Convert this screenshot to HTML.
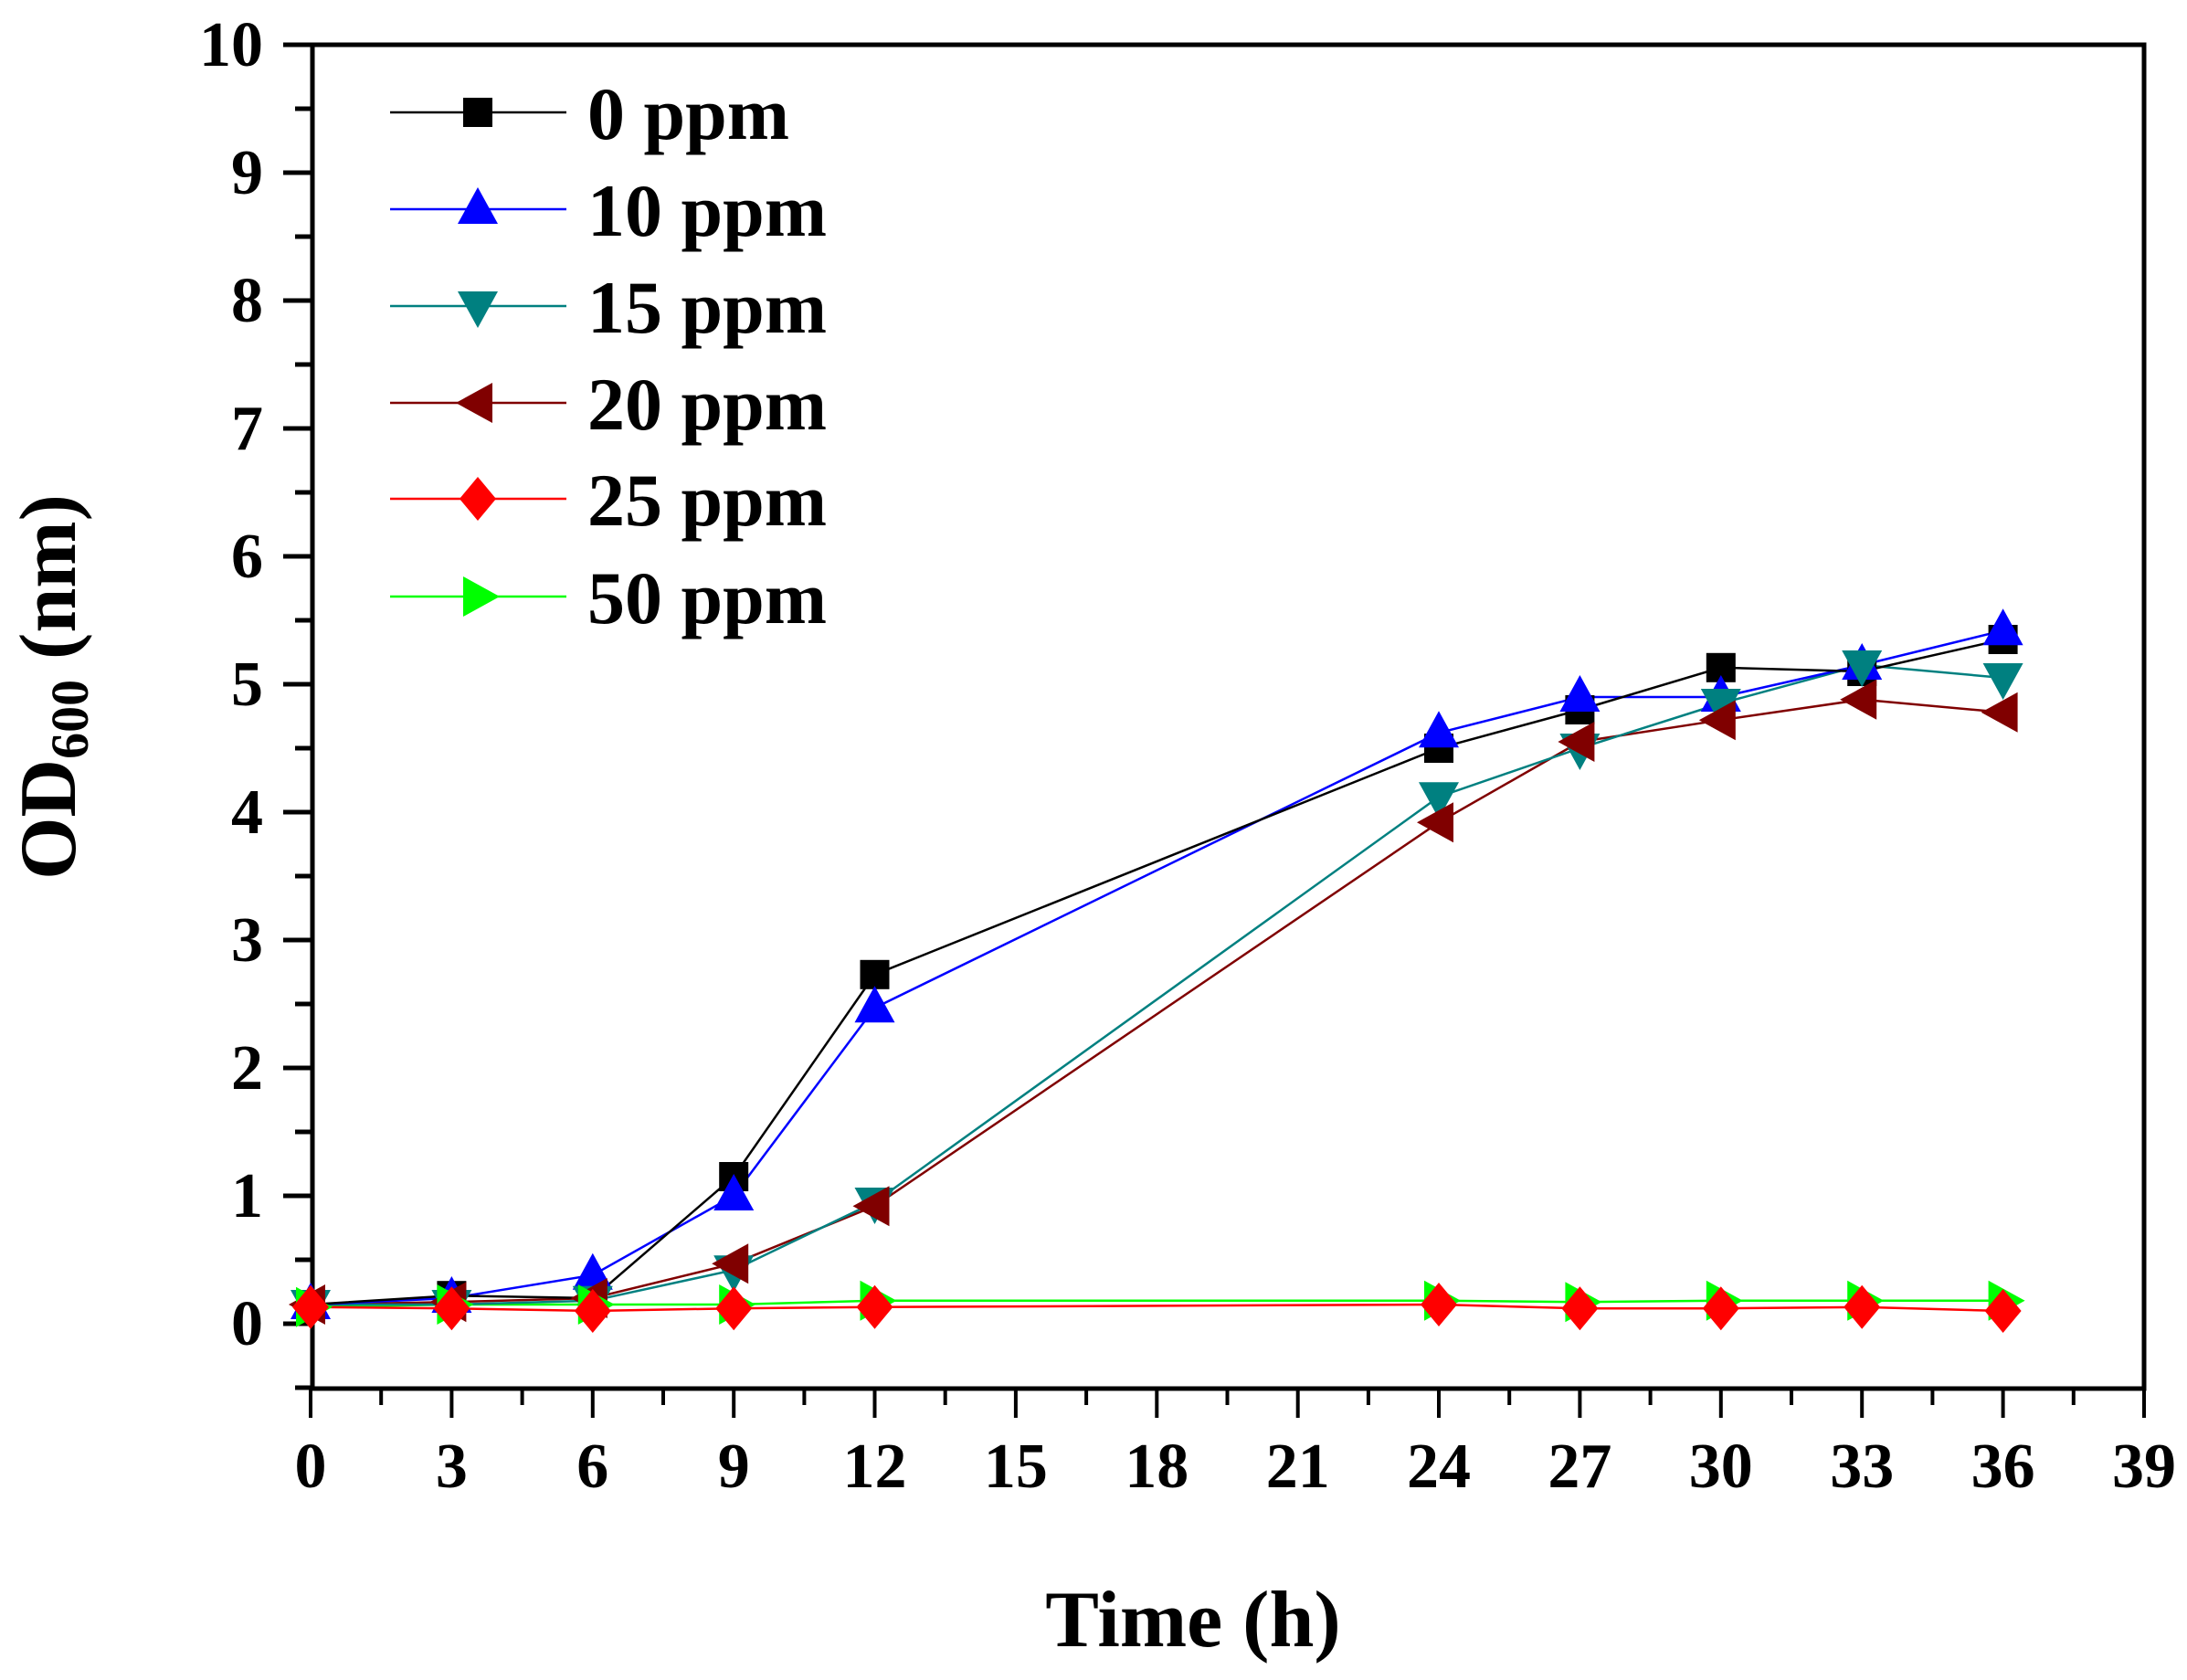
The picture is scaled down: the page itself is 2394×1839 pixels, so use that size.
<!DOCTYPE html>
<html><head><meta charset="utf-8"><style>
html,body{margin:0;padding:0;background:#fff;}
svg{display:block;}
text{font-family:"Liberation Serif",serif;font-weight:bold;fill:#000;}
</style></head><body>
<svg width="2394" height="1839" viewBox="0 0 2394 1839" xmlns="http://www.w3.org/2000/svg">
<defs>
<rect id="sq" x="-16" y="-16" width="32" height="32" fill="#000"/>
<polygon id="tu" points="0,-24 22,16 -22,16" fill="#0000ff"/>
<polygon id="td" points="0,24 22,-16 -22,-16" fill="#008080"/>
<polygon id="tl" points="-24,0 16,-22 16,22" fill="#800000"/>
<polygon id="dm" points="0,-24 20,0 0,24 -20,0" fill="#ff0000"/>
<polygon id="tr" points="24,0 -16,-22 -16,22" fill="#00ff00"/>
</defs>
<rect x="342" y="49" width="2005" height="1471" fill="none" stroke="#000" stroke-width="5"/>
<g stroke="#000" stroke-width="5">
<line x1="310" y1="49" x2="342" y2="49"/><line x1="323" y1="119" x2="342" y2="119"/>
<line x1="310" y1="189" x2="342" y2="189"/><line x1="323" y1="259" x2="342" y2="259"/>
<line x1="310" y1="329" x2="342" y2="329"/><line x1="323" y1="399" x2="342" y2="399"/>
<line x1="310" y1="469" x2="342" y2="469"/><line x1="323" y1="539" x2="342" y2="539"/>
<line x1="310" y1="609" x2="342" y2="609"/><line x1="323" y1="679" x2="342" y2="679"/>
<line x1="310" y1="749" x2="342" y2="749"/><line x1="323" y1="819" x2="342" y2="819"/>
<line x1="310" y1="889" x2="342" y2="889"/><line x1="323" y1="959" x2="342" y2="959"/>
<line x1="310" y1="1029" x2="342" y2="1029"/><line x1="323" y1="1099" x2="342" y2="1099"/>
<line x1="310" y1="1169" x2="342" y2="1169"/><line x1="323" y1="1239" x2="342" y2="1239"/>
<line x1="310" y1="1309" x2="342" y2="1309"/><line x1="323" y1="1379" x2="342" y2="1379"/>
<line x1="310" y1="1449" x2="342" y2="1449"/><line x1="323" y1="1519" x2="342" y2="1519"/>
</g>
<g stroke="#000" stroke-width="4">
<line x1="340" y1="1520" x2="340" y2="1552"/><line x1="417.2" y1="1520" x2="417.2" y2="1538"/>
<line x1="494.4" y1="1520" x2="494.4" y2="1552"/><line x1="571.6" y1="1520" x2="571.6" y2="1538"/>
<line x1="648.8" y1="1520" x2="648.8" y2="1552"/><line x1="726" y1="1520" x2="726" y2="1538"/>
<line x1="803.2" y1="1520" x2="803.2" y2="1552"/><line x1="880.4" y1="1520" x2="880.4" y2="1538"/>
<line x1="957.5" y1="1520" x2="957.5" y2="1552"/><line x1="1034.7" y1="1520" x2="1034.7" y2="1538"/>
<line x1="1111.9" y1="1520" x2="1111.9" y2="1552"/><line x1="1189.1" y1="1520" x2="1189.1" y2="1538"/>
<line x1="1266.3" y1="1520" x2="1266.3" y2="1552"/><line x1="1343.5" y1="1520" x2="1343.5" y2="1538"/>
<line x1="1420.7" y1="1520" x2="1420.7" y2="1552"/><line x1="1497.9" y1="1520" x2="1497.9" y2="1538"/>
<line x1="1575" y1="1520" x2="1575" y2="1552"/><line x1="1652.2" y1="1520" x2="1652.2" y2="1538"/>
<line x1="1729.4" y1="1520" x2="1729.4" y2="1552"/><line x1="1806.6" y1="1520" x2="1806.6" y2="1538"/>
<line x1="1883.8" y1="1520" x2="1883.8" y2="1552"/><line x1="1961" y1="1520" x2="1961" y2="1538"/>
<line x1="2038.2" y1="1520" x2="2038.2" y2="1552"/><line x1="2115.4" y1="1520" x2="2115.4" y2="1538"/>
<line x1="2192.6" y1="1520" x2="2192.6" y2="1552"/><line x1="2269.8" y1="1520" x2="2269.8" y2="1538"/>
<line x1="2347" y1="1520" x2="2347" y2="1552"/>
</g>
<g font-size="70" text-anchor="end">
<text x="288" y="72">10</text><text x="288" y="212">9</text><text x="288" y="352">8</text>
<text x="288" y="492">7</text><text x="288" y="632">6</text><text x="288" y="772">5</text>
<text x="288" y="912">4</text><text x="288" y="1052">3</text><text x="288" y="1192">2</text>
<text x="288" y="1332">1</text><text x="288" y="1472">0</text>
</g>
<g font-size="70" text-anchor="middle">
<text x="340" y="1628">0</text><text x="494.4" y="1628">3</text><text x="648.8" y="1628">6</text>
<text x="803.2" y="1628">9</text><text x="957.5" y="1628">12</text><text x="1111.9" y="1628">15</text>
<text x="1266.3" y="1628">18</text><text x="1420.7" y="1628">21</text><text x="1575" y="1628">24</text>
<text x="1729.4" y="1628">27</text><text x="1883.8" y="1628">30</text><text x="2038.2" y="1628">33</text>
<text x="2192.6" y="1628">36</text><text x="2347" y="1628">39</text>
</g>
<text x="1306" y="1802" font-size="88" text-anchor="middle">Time (h)</text>
<text transform="translate(82,752) rotate(-90)" font-size="88" text-anchor="middle">OD<tspan font-size="58" dy="14">600</tspan><tspan dy="-14"> (nm)</tspan></text>

<g fill="none" stroke-width="2.5">
<polyline stroke="#00ff00" points="340,1430.8 494.4,1428 648.8,1428 803.2,1428 957.5,1423.8 1575,1423.8 1729.4,1425.2 1883.8,1423.8 2038.2,1423.8 2192.6,1423.8"/>
<polyline stroke="#ff0000" points="340,1430.8 494.4,1432.2 648.8,1435 803.2,1432.2 957.5,1430.8 1575,1428 1729.4,1432.2 1883.8,1432.2 2038.2,1430.8 2192.6,1435"/>
<polyline stroke="#800000" points="340,1428 494.4,1425.2 648.8,1421 803.2,1383.2 957.5,1320.2 1575,900.2 1729.4,812 1883.8,788.2 2038.2,765.8 2192.6,779.8"/>
<polyline stroke="#008080" points="340,1428 494.4,1428 648.8,1423.8 803.2,1390.2 957.5,1316 1575,872.2 1729.4,819 1883.8,770 2038.2,728 2192.6,742"/>
<polyline stroke="#0000ff" points="340,1428 494.4,1421 648.8,1395.8 803.2,1309 957.5,1103.2 1575,802.2 1729.4,763 1883.8,763 2038.2,728 2192.6,690.2"/>
<polyline stroke="#000" points="340,1428 494.4,1418.2 648.8,1421 803.2,1288 957.5,1066.8 1575,819 1729.4,777 1883.8,730.8 2038.2,735 2192.6,700"/>
</g>
<g>
<use href="#sq" x="340" y="1428"/><use href="#sq" x="494.4" y="1418.2"/><use href="#sq" x="648.8" y="1421"/><use href="#sq" x="803.2" y="1288"/><use href="#sq" x="957.5" y="1066.8"/><use href="#sq" x="1575" y="819"/><use href="#sq" x="1729.4" y="777"/><use href="#sq" x="1883.8" y="730.8"/><use href="#sq" x="2038.2" y="735"/><use href="#sq" x="2192.6" y="700"/>
<use href="#tu" x="340" y="1428"/><use href="#tu" x="494.4" y="1421"/><use href="#tu" x="648.8" y="1395.8"/><use href="#tu" x="803.2" y="1309"/><use href="#tu" x="957.5" y="1103.2"/><use href="#tu" x="1575" y="802.2"/><use href="#tu" x="1729.4" y="763"/><use href="#tu" x="1883.8" y="763"/><use href="#tu" x="2038.2" y="728"/><use href="#tu" x="2192.6" y="690.2"/>
<use href="#td" x="340" y="1428"/><use href="#td" x="494.4" y="1428"/><use href="#td" x="648.8" y="1423.8"/><use href="#td" x="803.2" y="1390.2"/><use href="#td" x="957.5" y="1316"/><use href="#td" x="1575" y="872.2"/><use href="#td" x="1729.4" y="819"/><use href="#td" x="1883.8" y="770"/><use href="#td" x="2038.2" y="728"/><use href="#td" x="2192.6" y="742"/>
<use href="#tl" x="340" y="1428"/><use href="#tl" x="494.4" y="1425.2"/><use href="#tl" x="648.8" y="1421"/><use href="#tl" x="803.2" y="1383.2"/><use href="#tl" x="957.5" y="1320.2"/><use href="#tl" x="1575" y="900.2"/><use href="#tl" x="1729.4" y="812"/><use href="#tl" x="1883.8" y="788.2"/><use href="#tl" x="2038.2" y="765.8"/><use href="#tl" x="2192.6" y="779.8"/>
<use href="#tr" x="340" y="1430.8"/><use href="#tr" x="494.4" y="1428"/><use href="#tr" x="648.8" y="1428"/><use href="#tr" x="803.2" y="1428"/><use href="#tr" x="957.5" y="1423.8"/><use href="#tr" x="1575" y="1423.8"/><use href="#tr" x="1729.4" y="1425.2"/><use href="#tr" x="1883.8" y="1423.8"/><use href="#tr" x="2038.2" y="1423.8"/><use href="#tr" x="2192.6" y="1423.8"/>
<use href="#dm" x="340" y="1430.8"/><use href="#dm" x="494.4" y="1432.2"/><use href="#dm" x="648.8" y="1435"/><use href="#dm" x="803.2" y="1432.2"/><use href="#dm" x="957.5" y="1430.8"/><use href="#dm" x="1575" y="1428"/><use href="#dm" x="1729.4" y="1432.2"/><use href="#dm" x="1883.8" y="1432.2"/><use href="#dm" x="2038.2" y="1430.8"/><use href="#dm" x="2192.6" y="1435"/>
</g>
<g stroke-width="2.5">
<line x1="427" y1="123" x2="620" y2="123" stroke="#000"/>
<line x1="427" y1="229" x2="620" y2="229" stroke="#0000ff"/>
<line x1="427" y1="335" x2="620" y2="335" stroke="#008080"/>
<line x1="427" y1="441" x2="620" y2="441" stroke="#800000"/>
<line x1="427" y1="546" x2="620" y2="546" stroke="#ff0000"/>
<line x1="427" y1="653" x2="620" y2="653" stroke="#00ff00"/>
</g>
<use href="#sq" x="523" y="123"/><use href="#tu" x="523" y="229"/><use href="#td" x="523" y="335"/>
<use href="#tl" x="523" y="441"/><use href="#dm" x="523" y="546"/><use href="#tr" x="523" y="653"/>
<g font-size="82">
<text x="643" y="152">0 ppm</text><text x="643" y="258">10 ppm</text><text x="643" y="364">15 ppm</text>
<text x="643" y="470">20 ppm</text><text x="643" y="575">25 ppm</text><text x="643" y="682">50 ppm</text>
</g>
</svg>
</body></html>
